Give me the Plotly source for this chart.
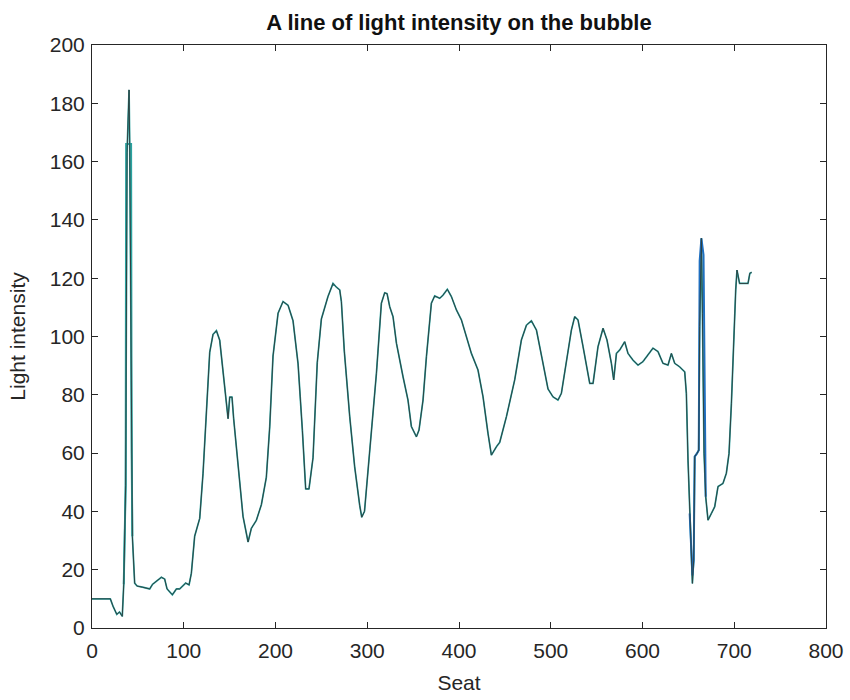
import plotly.graph_objects as go

# Sampled light-intensity profile along one line across the bubble
seat = [0, 20, 23, 27, 30, 33, 34.6, 36.7, 38.2, 40.4, 41.1, 42.5, 44.0, 46.5, 49.1,
        55, 60, 62.9, 66, 70.2, 75.6, 79.2, 81.8, 87.6, 92.0, 95.6, 102.1, 105.8,
        108.3, 111.9, 114.5, 117.4, 121, 124.7, 128.3, 131.9, 135.6, 139.2, 142.8,
        146.5, 148.3, 150.1, 152.6, 154.4, 159.2, 164.6, 170.1, 173.7, 179.1, 184.6,
        190, 193.7, 197.3, 202.8, 208.2, 213.7, 219.1, 224.6, 229.3, 232.9, 236.5,
        240.9, 245.5, 250, 257.2, 262.7, 266.4, 270, 271.8, 275, 280.9, 286.3, 291.8,
        294, 297, 302.7, 310, 315.4, 319, 321.6, 324.5, 328.1, 331.8, 339, 344.4,
        348.1, 353.6, 356.4, 360.8, 364.5, 369.9, 373.5, 379, 382.6, 387.3, 391.7,
        397.2, 402.6, 408.1, 413.5, 420.7, 426.2, 431.6, 435.3, 440.8, 444.4, 451.7,
        460.7, 468, 473.5, 478.9, 484.4, 490.5, 497, 502.5, 507.9, 511.6, 517.1,
        522.5, 526.1, 529.7, 535.2, 540.6, 542.5, 546.1, 551.5, 557, 561.3, 566.1,
        568.6, 571.6, 575.2, 580.6, 584.2, 589.6, 595.1, 600.5, 606, 611.4, 616.9,
        622.3, 627.8, 631.5, 635.1, 640.5, 646, 647.8, 649.6, 651.4, 653.3, 654.4,
        655.8, 656.9, 659.4, 661.3, 662.3, 664.2, 665.3, 667.1, 668.9, 671.4, 675.1,
        678.7, 682.3, 687.7, 691.4, 694.3, 696.9, 699.4, 701.6, 703, 705.8, 715,
        717, 719]
intensity = [10, 10, 7.4, 4.7, 5.5, 4, 15, 49, 163, 184.6, 166, 88, 31.5, 15.4, 14.4,
             14, 13.5, 13.4, 15, 16, 17.4, 16.8, 13.4, 11.4, 13.4, 13.4, 15.4, 14.8,
             18.8, 31.5, 34.9, 37.6, 53, 75.8, 94.6, 100.7, 102, 98.7, 88,
             78.5, 71.8, 79.2, 79.2, 71.8, 57, 38.3, 29.5, 34.2, 36.9, 42.3,
             51.7, 69, 93.3, 108, 112, 110.7, 105.4, 90.6, 67.8, 47.7, 47.7,
             58.4, 91, 106, 113.7, 118.2, 116.9, 116, 112, 95, 72.5, 55.3, 42,
             38, 40, 61, 87.4, 111.4, 115, 114.7, 110.2, 106.8, 97.7, 86.2, 78.2,
             69.1, 65.6, 67.9, 78.2, 93.1, 111.4, 113.9, 113.1, 114.2, 116.2, 113.7,
             109.1, 105.7, 99.9, 94.2, 88.5, 79.3, 66.8, 59.3, 62.2, 63.7, 72.5,
             85.1, 98.8, 103.9, 105.4, 102.2, 92.5, 82, 79.3, 78.2, 80.5, 91.9,
             102.2, 106.8, 105.7, 96.5, 86.2, 83.9, 83.9, 96.5, 102.8, 98.8, 90.8,
             85.1, 94.2, 95.4, 98.2, 94.2, 91.9, 90.2, 91.4, 93.7, 96, 94.8,
             90.8, 90.2, 94.2, 90.8, 89.6, 87.9, 80.5, 57.6, 39.3, 26.8, 15.3,
             23.3, 58.8, 59.9, 61, 103.4, 133.7, 108, 59.9, 45, 37, 39.3,
             41.6, 48.5, 49.6, 53.1, 59.9, 77.1, 99.9, 116, 122.8, 118.2, 118.2,
             121.7, 122]

# Second channel where it departs from the main trace
spike_seat = [34.6, 36.7, 37.2, 40.4, 42.6, 43.2, 44.0]
spike_val = [15, 49, 166, 166, 166, 60, 31.5]

# Third channel around the right-hand edge of the bubble
edge_seat = [651.4, 653.3, 654.4, 655.8, 656.9, 659.4, 661.3, 662.3, 664.2, 666.5, 667.8, 668.9]
edge_val = [39.3, 26.8, 18, 23.3, 58.8, 59.9, 61, 126, 133.7, 128, 80, 45]

x_ticks = [0, 100, 200, 300, 400, 500, 600, 700, 800]
y_ticks = [0, 20, 40, 60, 80, 100, 120, 140, 160, 180, 200]

FONT = "Liberation Sans, Arial, sans-serif"
INK = "#262626"

fig = go.Figure()
fig.add_trace(go.Scatter(x=seat, y=intensity, mode="lines",
                         line=dict(color="#2aa3a0", width=1.7), hoverinfo="skip"))
fig.add_trace(go.Scatter(x=spike_seat, y=spike_val, mode="lines",
                         line=dict(color="#2aa3a0", width=2), hoverinfo="skip"))
fig.add_trace(go.Scatter(x=edge_seat, y=edge_val, mode="lines",
                         line=dict(color="#1f6fc0", width=2), hoverinfo="skip"))
fig.add_trace(go.Scatter(x=seat, y=intensity, mode="lines",
                         line=dict(color="#2e4242", width=1)))

axis_style = dict(
    showline=True, linecolor=INK, linewidth=1, mirror="ticks",
    ticks="inside", ticklen=6, tickcolor=INK, showgrid=False, zeroline=False,
    automargin=False,
    tickfont=dict(family=FONT, size=21, color=INK),
)

fig.update_layout(
    width=850, height=700,
    paper_bgcolor="white", plot_bgcolor="white",
    showlegend=False,
    margin=dict(l=92, r=24, t=45, b=72, autoexpand=False),
    title=dict(text="<b>A line of light intensity on the bubble</b>",
               x=(92 + 367) / 850, xanchor="center", y=1 - 22 / 700, yanchor="middle",
               font=dict(family=FONT, size=22, color="#111111")),
    xaxis=dict(range=[0, 800], tickvals=x_ticks, ticklabelstandoff=4,
               title=dict(text="Seat", standoff=14,
                          font=dict(family=FONT, size=21, color=INK)),
               **axis_style),
    yaxis=dict(range=[0, 200], tickvals=y_ticks, ticklabelstandoff=2,
               title=dict(text="Light intensity", standoff=18,
                          font=dict(family=FONT, size=21, color=INK)),
               **axis_style),
)

fig.write_html("out.html")
